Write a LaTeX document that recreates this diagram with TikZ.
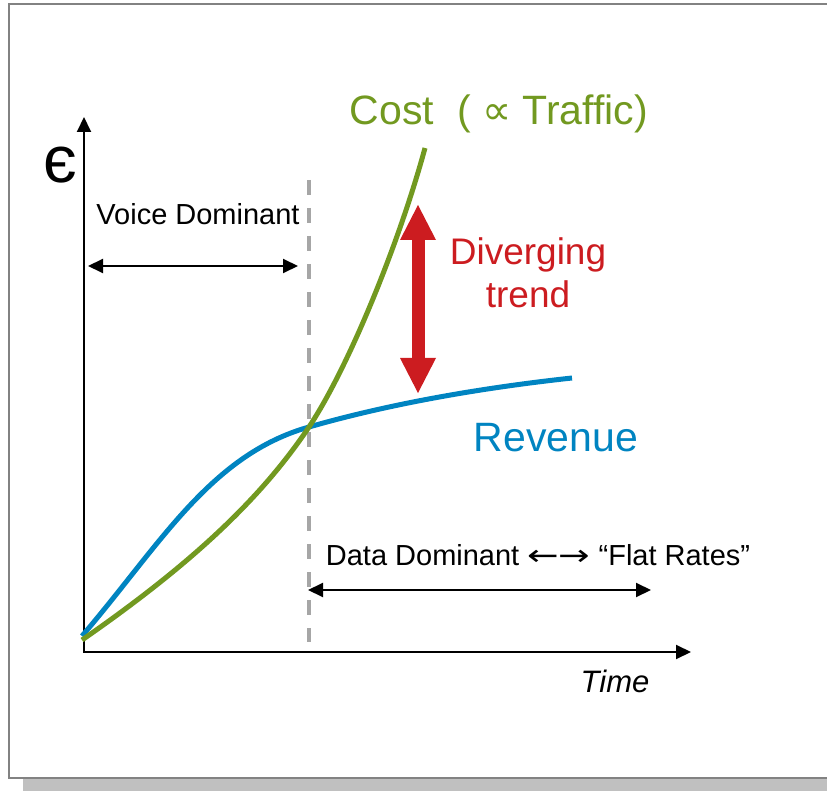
\documentclass[tikz,border=0pt]{standalone}
\usepackage{fontspec}
\setmainfont{Liberation Sans}
\newfontfamily\symfont{DejaVu Sans}
\usetikzlibrary{arrows.meta}
\definecolor{costgreen}{RGB}{114,153,32}
\definecolor{revblue}{RGB}{0,132,193}
\definecolor{trendred}{RGB}{204,28,32}
\definecolor{framegray}{RGB}{130,130,130}
\definecolor{shadowgray}{RGB}{192,192,192}
\definecolor{dashgray}{RGB}{166,166,166}

\begin{document}
\begin{tikzpicture}[x=1pt,y=-1pt,>={Triangle[length=15pt,width=14pt]},
		ln/.style={inner sep=0pt},
		curve/.style={line width=5pt}]
		\useasboundingbox (0,0) rectangle (827,791);
		\fill[shadowgray] (23,779) rectangle (827,791);
		\draw[framegray,line width=2pt] (827,4) -- (9,4) -- (9,778) -- (827,778);
		\coordinate (ytip) at (84,117);
		\coordinate (origin) at (84,652);
		\coordinate (xtip) at (691,652);
		\draw[line width=2pt,<->] (ytip) -- (origin) -- (xtip);
		\draw[dashgray,line width=4pt,dash pattern=on 15pt off 13pt] (309,180) -- (309,642);
		\node[ln,font=\fontsize{66}{72}\selectfont] (eps) at (60,165) {є};
		\node[ln,font=\fontsize{29}{33}\selectfont] (voice) at (198,214) {Voice Dominant};
		\coordinate (vl) at (88,266);
		\coordinate (vr) at (298,266);
		\draw[line width=2pt,<->] (vl) -- (vr);
		\node[ln,font=\fontsize{29}{33}\selectfont] (data) at (538,555) {Data Dominant \scalebox{1.3}[1]{\symfont ←→} “Flat Rates”};
		\coordinate (dl) at (308,590);
		\coordinate (dr) at (651,590);
		\draw[line width=2pt,<->] (dl) -- (dr);
		\draw[curve,revblue] (82,636) .. controls (160,545) and (210,455) .. (309,427)
			.. controls (389,404) and (480,388) .. (572,378);
		\draw[curve,costgreen] (82,640) .. controls (190,565) and (260,500) .. (309,427)
			.. controls (350,365) and (400,240) .. (425,148);
		\node[ln,anchor=base,text=costgreen,font=\fontsize{41}{47}\selectfont] (cost) at (499,125) {Cost\ \ ( {\symfont ∝} Traffic)};
		\node[ln,anchor=base,text=revblue,font=\fontsize{41}{47}\selectfont] (rev) at (556,451) {Revenue};
		\node[ln,anchor=base,text=trendred,font=\fontsize{37}{43}\selectfont] (div) at (528,265) {Diverging};
		\node[ln,anchor=base,text=trendred,font=\fontsize{37}{43}\selectfont] (trend) at (528,308) {trend};
		\coordinate (up) at (418,205);
		\coordinate (down) at (418,393);
		\draw[trendred,line width=13pt,{Triangle[length=35pt,width=36pt,line width=0pt]}-{Triangle[length=35pt,width=36pt,line width=0pt]}] (up) -- (down);
		\node[ln,anchor=base,font=\fontsize{31}{36}\selectfont\itshape] (time) at (615,692) {Time};
\end{tikzpicture}
\end{document}
